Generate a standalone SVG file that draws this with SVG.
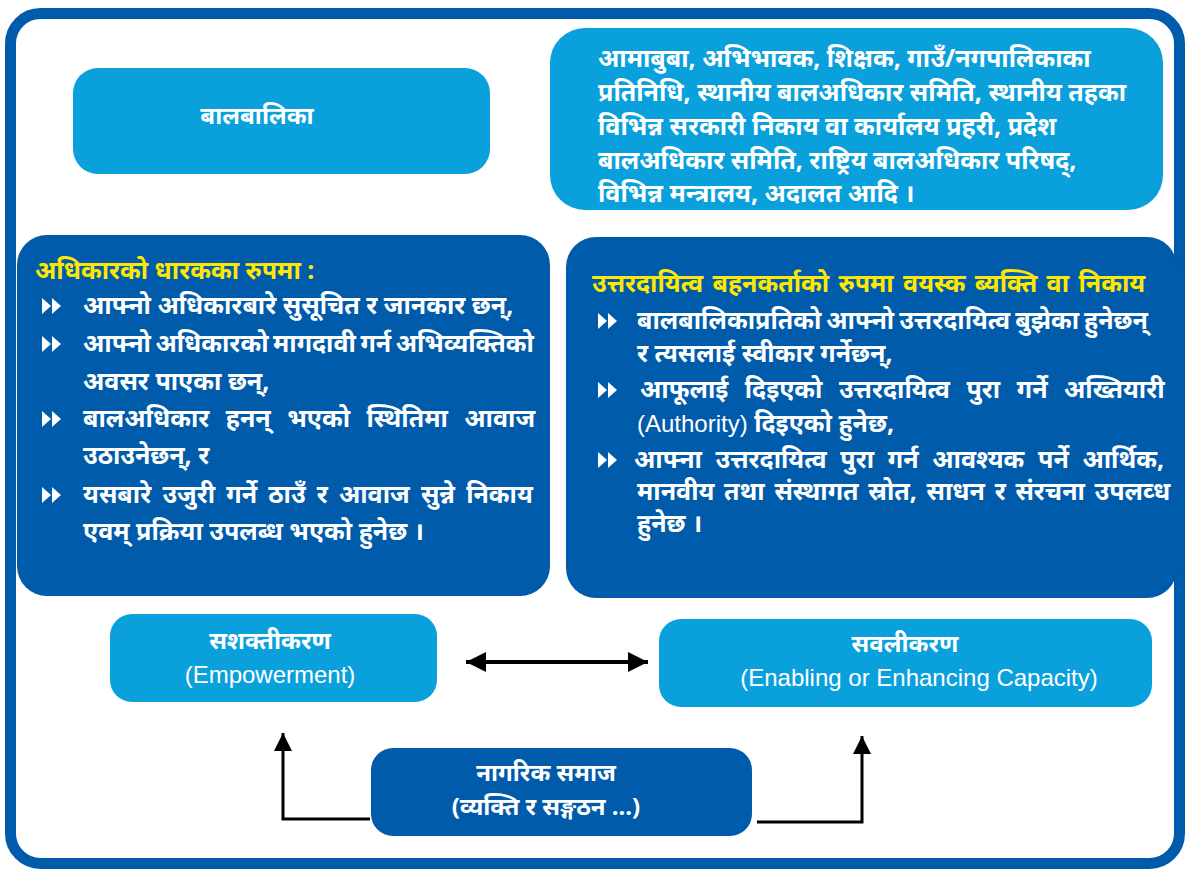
<svg xmlns="http://www.w3.org/2000/svg" width="1185" height="869" viewBox="0 0 1185 869">
<style>
.lb{fill:#0AA0DC}
.db{fill:#005BAA}
.t{font-family:"Noto Sans","Noto Sans CJK SC",sans-serif;font-weight:bold;fill:#fff;font-size:25px}
.s24{font-size:24px}
.y{fill:#FFE800}
.en{font-family:"Liberation Sans",Arial,sans-serif;font-weight:normal;fill:#fff;font-size:24px}
.c{stroke:#000;fill:none}
</style>
<defs>
<marker id="ah2" viewBox="0 0 10 10" refX="10" refY="5" markerWidth="20" markerHeight="24" orient="auto-start-reverse" markerUnits="userSpaceOnUse">
<path d="M0,0 L10,5 L0,10 Z" fill="#000"/>
</marker>
<marker id="ah3" viewBox="0 0 10 10" refX="10" refY="5" markerWidth="18" markerHeight="18" orient="auto" markerUnits="userSpaceOnUse">
<path d="M0,0 L10,5 L0,10 Z" fill="#000"/>
</marker>
<g id="bul"><path d="M0,-8 L9,0 L0,8 Z M10,-8 L19,0 L10,8 Z" fill="#fff"/></g>
</defs>
<rect x="10.5" y="13.5" width="1169" height="850" rx="30" fill="#fff" stroke="#005BAA" stroke-width="11"/>

<g id="n-children">
<rect class="lb" x="73" y="68" width="417" height="106" rx="25"/>
<text class="t s24" x="257" y="124" text-anchor="middle">बालबालिका</text>
</g>

<g id="n-duty-list">
<rect class="lb" x="550" y="28" width="613" height="182" rx="35"/>
<text class="t" x="598" y="67">आमाबुबा, अभिभावक, शिक्षक, गाउँ/नगपालिकाका</text>
<text class="t" x="598" y="101">प्रतिनिधि, स्थानीय बालअधिकार समिति, स्थानीय तहका</text>
<text class="t" x="598" y="135">विभिन्न सरकारी निकाय वा कार्यालय प्रहरी, प्रदेश</text>
<text class="t" x="598" y="169">बालअधिकार समिति, राष्ट्रिय बालअधिकार परिषद्,</text>
<text class="t" x="598" y="202">विभिन्न मन्त्रालय, अदालत आदि ।</text>
</g>

<g id="n-rights-holders">
<rect class="db" x="17" y="235" width="533" height="361" rx="30"/>
<text class="t y" x="35" y="279">अधिकारको धारकका रुपमा :</text>
<use href="#bul" x="42" y="306"/>
<text class="t" x="83" y="314">आफ्नो अधिकारबारे सुसूचित र जानकार छन्,</text>
<use href="#bul" x="42" y="344"/>
<text class="t" x="83" y="352" word-spacing="-2">आफ्नो अधिकारको मागदावी गर्न अभिव्यक्तिको</text>
<text class="t" x="83" y="390">अवसर पाएका छन्,</text>
<use href="#bul" x="42" y="419"/>
<text class="t" x="83" y="427" word-spacing="10">बालअधिकार हनन् भएको स्थितिमा आवाज</text>
<text class="t" x="83" y="464">उठाउनेछन्, र</text>
<use href="#bul" x="42" y="495"/>
<text class="t" x="83" y="503" word-spacing="4.7">यसबारे उजुरी गर्ने ठाउँ र आवाज सुन्ने निकाय</text>
<text class="t" x="83" y="540">एवम् प्रक्रिया उपलब्ध भएको हुनेछ ।</text>
</g>

<g id="n-duty-bearers">
<rect class="db" x="566" y="237" width="611" height="361" rx="30"/>
<text class="t y" x="592" y="292" word-spacing="2.9">उत्तरदायित्व बहनकर्ताको रुपमा वयस्क ब्यक्ति वा निकाय</text>
<use href="#bul" x="598" y="321"/>
<text class="t" x="637" y="329" word-spacing="-1.5">बालबालिकाप्रतिको आफ्नो उत्तरदायित्व बुझेका हुनेछन्</text>
<text class="t" x="637" y="362">र त्यसलाई स्वीकार गर्नेछन्,</text>
<use href="#bul" x="598" y="390"/>
<text class="t" x="640" y="398" word-spacing="10">आफूलाई दिइएको उत्तरदायित्व पुरा गर्ने अख्तियारी</text>
<text class="t" x="637" y="432"><tspan class="en">(Authority)</tspan> दिइएको हुनेछ,</text>
<use href="#bul" x="598" y="460"/>
<text class="t" x="634" y="468" word-spacing="7.2">आफ्ना उत्तरदायित्व पुरा गर्न आवश्यक पर्ने आर्थिक,</text>
<text class="t" x="637" y="500" word-spacing="3.2">मानवीय तथा संस्थागत स्रोत, साधन र संरचना उपलव्ध</text>
<text class="t" x="637" y="532">हुनेछ ।</text>
</g>

<g id="n-empowerment">
<rect class="lb" x="110" y="614" width="327" height="88" rx="22"/>
<text class="t s24" x="270" y="649" text-anchor="middle">सशक्तीकरण</text>
<text class="en" x="270" y="683" text-anchor="middle">(Empowerment)</text>
</g>

<g id="n-enabling">
<rect class="lb" x="659" y="619" width="493" height="88" rx="22"/>
<text class="t s24" x="905" y="652" text-anchor="middle">सवलीकरण</text>
<text class="en" x="919" y="686" text-anchor="middle">(Enabling or Enhancing Capacity)</text>
</g>

<g id="n-civil-society">
<rect class="db" x="371" y="748" width="381" height="88" rx="22"/>
<text class="t s24" x="546" y="781" text-anchor="middle">नागरिक समाज</text>
<text class="t s24" x="546" y="815" text-anchor="middle">(व्यक्ति र सङ्गठन ...)</text>
</g>

<g id="connectors">
<line class="c" x1="466" y1="662" x2="648" y2="662" stroke-width="4" marker-start="url(#ah2)" marker-end="url(#ah2)"/>
<polyline class="c" points="370,819 283,819 283,733" stroke-width="3" marker-end="url(#ah3)"/>
<polyline class="c" points="757,822 862,822 862,736" stroke-width="3" marker-end="url(#ah3)"/>
</g>
</svg>
